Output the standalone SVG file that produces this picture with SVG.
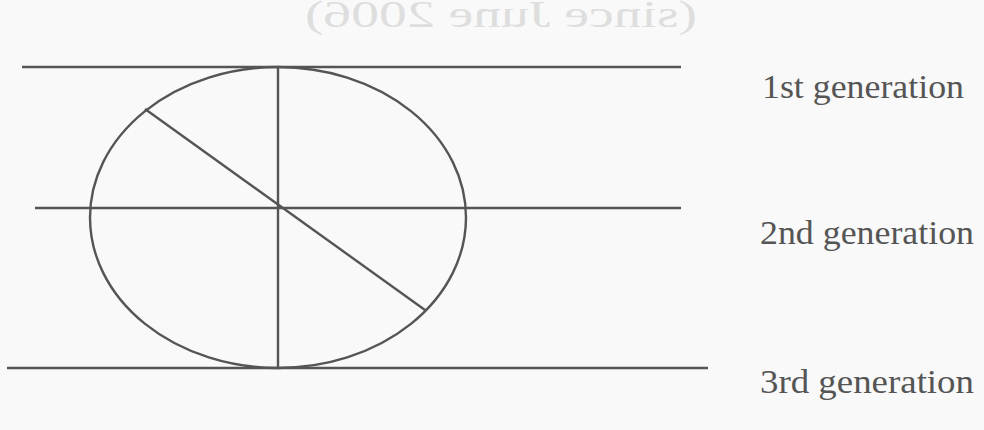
<svg xmlns="http://www.w3.org/2000/svg" width="984" height="430" viewBox="0 0 984 430">
<style>
.ln{stroke:#555;stroke-width:2.4;fill:none}
.lbl{font-family:"Liberation Serif","Times New Roman",serif;font-size:33px;fill:#555}
.ghost{font-family:"Liberation Serif","Times New Roman",serif;font-size:38px;fill:#dedede}
</style>
<rect width="984" height="430" fill="#f9f9f9"/>
<g id="bleed"><text class="ghost" transform="translate(984,0) scale(-1,1)" x="483" y="27" text-anchor="middle" textLength="392" lengthAdjust="spacingAndGlyphs">(since June 2006)</text></g>
<g id="connectors">
<line class="ln" x1="22" y1="67" x2="681" y2="67"/>
<line class="ln" x1="35" y1="208" x2="681" y2="208"/>
<line class="ln" x1="7" y1="368" x2="708" y2="368"/>
<line class="ln" x1="278" y1="67" x2="278" y2="368"/>
<line class="ln" x1="145" y1="109" x2="425" y2="310"/>
</g>
<g id="ellipse"><ellipse class="ln" cx="278" cy="217.5" rx="188" ry="150.5"/></g>
<g id="gen1"><text class="lbl" x="762" y="98" textLength="202" lengthAdjust="spacingAndGlyphs">1st generation</text></g>
<g id="gen2"><text class="lbl" x="760" y="244" textLength="214" lengthAdjust="spacingAndGlyphs">2nd generation</text></g>
<g id="gen3"><text class="lbl" x="760" y="393" textLength="214" lengthAdjust="spacingAndGlyphs">3rd generation</text></g>
</svg>
